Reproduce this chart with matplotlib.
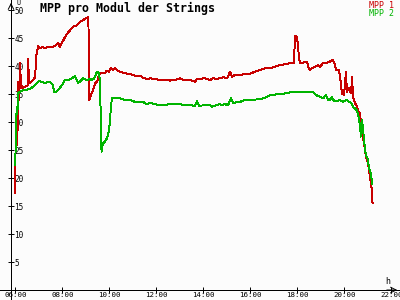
import matplotlib
matplotlib.use("Agg")
import matplotlib.pyplot as plt

# time of day in hours, voltage per module in V
t_mpp1 = [6.00, 6.01, 6.05, 6.09, 6.11, 6.17, 6.20, 6.24, 6.29, 6.41, 6.52, 6.55, 6.58, 6.67,
          6.75, 6.84, 6.90, 6.97, 7.05, 7.14, 7.26, 7.39, 7.56, 7.69, 7.82, 7.90, 8.03, 8.16,
          8.33, 8.46, 8.63, 8.75, 8.88, 9.01, 9.11, 9.15, 9.22, 9.31, 9.39, 9.48, 9.56, 9.65,
          9.82, 9.90, 9.99, 10.07, 10.16, 10.24, 10.37, 10.50, 10.67, 10.88, 11.09, 11.31, 11.43,
          11.60, 11.73, 11.94, 12.16, 12.37, 12.58, 12.80, 13.01, 13.14, 13.43, 13.65, 13.73,
          14.07, 14.29, 14.41, 14.58, 14.84, 15.01, 15.14, 15.22, 15.35, 15.56, 15.77, 15.99,
          16.20, 16.41, 16.63, 16.84, 17.05, 17.26, 17.48, 17.69, 17.86, 17.90, 17.99, 18.03,
          18.07, 18.11, 18.20, 18.33, 18.41, 18.46, 18.54, 18.63, 18.75, 18.88, 18.97, 19.09,
          19.26, 19.39, 19.52, 19.60, 19.65, 19.77, 19.82, 19.90, 19.99, 20.07, 20.11, 20.20,
          20.29, 20.33, 20.37, 20.46, 20.54, 20.58, 20.67, 20.71, 20.75, 20.80, 20.88, 20.92,
          21.01, 21.05, 21.09, 21.14, 21.18, 21.20]
mpp1 = [17.4, 25.6, 27.0, 25.9, 37.2, 33.9, 40.5, 37.0, 36.0, 36.3, 36.5, 41.2, 36.9, 37.2,
        37.5, 38.0, 42.0, 43.6, 43.2, 43.4, 43.2, 43.4, 43.4, 43.6, 44.1, 43.4, 44.5, 45.5,
        46.4, 47.0, 47.3, 47.9, 48.2, 48.5, 48.7, 33.9, 34.8, 35.7, 36.9, 37.2, 38.4, 38.7,
        38.8, 39.2, 39.0, 39.6, 39.3, 39.6, 39.1, 38.9, 38.7, 38.6, 38.3, 38.3, 37.9,
        37.7, 37.8, 37.7, 37.5, 37.5, 37.4, 37.5, 37.8, 37.5, 37.5, 37.2, 37.7,
        37.8, 37.5, 37.8, 37.7, 38.0, 37.8, 39.0, 38.1, 38.4, 38.4, 38.6, 38.6,
        39.0, 39.3, 39.6, 39.6, 39.9, 40.2, 40.3, 40.5, 40.6, 45.4, 45.2, 43.4,
        41.7, 40.5, 40.5, 40.7, 40.8, 39.9, 39.2, 39.7, 39.8, 40.2, 39.9, 40.5,
        40.6, 40.8, 41.1, 40.2, 39.3, 39.3, 38.1, 35.1, 34.8, 39.0, 35.4, 36.0,
        35.1, 38.1, 34.5, 33.3, 32.9, 32.1, 31.5, 29.8, 28.6, 27.1, 25.0, 23.8,
        22.6, 21.4, 20.2, 19.0, 17.3, 15.6]

t_mpp2 = [6.00, 6.02, 6.06, 6.09, 6.11, 6.20, 6.33, 6.50, 6.67, 6.75, 6.84, 6.92, 7.01, 7.09,
          7.26, 7.48, 7.60, 7.65, 7.73, 7.82, 7.99, 8.11, 8.33, 8.54, 8.67, 8.75, 8.88, 9.05,
          9.18, 9.26, 9.35, 9.48, 9.56, 9.60, 9.67, 9.73, 9.82, 9.90, 9.99, 10.03, 10.07, 10.11,
          10.20, 10.33, 10.46, 10.63, 10.75, 10.84, 11.09, 11.31, 11.43, 11.60, 11.73, 11.94,
          12.16, 12.37, 12.58, 12.80, 13.01, 13.22, 13.43, 13.65, 13.73, 13.82, 14.07, 14.29,
          14.37, 14.54, 14.71, 14.80, 14.92, 15.05, 15.18, 15.26, 15.56, 15.77, 15.99, 16.20,
          16.41, 16.63, 16.84, 17.05, 17.26, 17.48, 17.69, 17.90, 18.11, 18.33, 18.54, 18.67,
          18.80, 18.97, 19.09, 19.22, 19.31, 19.39, 19.48, 19.56, 19.69, 19.82, 19.95, 20.03,
          20.11, 20.20, 20.29, 20.37, 20.46, 20.54, 20.58, 20.63, 20.67, 20.71, 20.75, 20.80,
          20.84, 20.88, 20.92, 21.01, 21.05, 21.09, 21.14, 21.18]
mpp2 = [22.3, 27.7, 32.7, 31.5, 35.1, 35.4, 35.7, 35.8, 36.0, 36.3, 36.6, 36.9, 37.4, 37.2,
        37.0, 37.2, 36.6, 35.4, 35.3, 35.7, 36.6, 37.5, 37.6, 38.2, 37.0, 37.2, 37.8, 37.5,
        37.7, 37.5, 37.7, 39.0, 38.7, 37.5, 24.7, 26.2, 26.5, 27.1, 28.6, 30.4, 32.7, 34.2,
        34.3, 34.3, 34.2, 34.0, 33.9, 34.0, 33.6, 33.5, 33.6, 33.2, 33.4, 33.2,
        33.0, 33.0, 33.3, 33.2, 33.2, 33.0, 33.0, 32.9, 33.75, 32.9, 33.0, 33.0,
        32.7, 33.0, 33.2, 33.0, 33.2, 33.0, 34.3, 33.4, 33.6, 33.9, 33.9, 34.0,
        34.1, 34.3, 34.8, 34.9, 35.0, 35.1, 35.3, 35.3, 35.4, 35.3, 35.4, 35.3,
        34.8, 34.5, 34.2, 34.8, 33.9, 34.0, 34.4, 33.8, 33.8, 33.9, 33.6, 33.8,
        33.9, 33.6, 33.4, 32.7, 32.4, 32.1, 31.5, 30.4, 29.2, 27.4, 30.4, 28.6,
        26.8, 25.0, 24.1, 23.2, 21.7, 21.4, 20.5, 19.0]

x_ticks = [6, 8, 10, 12, 14, 16, 18, 20, 22]
x_labels = ["06:00", "08:00", "10:00", "12:00", "14:00", "16:00", "18:00", "20:00", "22:00"]
y_ticks = [5, 10, 15, 20, 25, 30, 35, 40, 45, 50]

red = "#c80000"
green = "#00b400"
bg = "#fcfcfc"
mono = "DejaVu Sans Mono"

fig = plt.figure(figsize=(4, 3), dpi=100, facecolor=bg)
ax = fig.add_axes([0, 0, 1, 1], facecolor=bg)

ax.plot(t_mpp1, mpp1, color=red, lw=0.7, antialiased=False)
ax.plot(t_mpp2, mpp2, color=green, lw=0.7, antialiased=False)

ax.set_xlim(5.349, 22.37)
ax.set_ylim(-1.786, 51.79)

for s in ["top", "right"]:
    ax.spines[s].set_visible(False)
ax.spines["left"].set_position(("data", 5.817))
ax.spines["bottom"].set_position(("data", 0))
for s in ["left", "bottom"]:
    ax.spines[s].set_linewidth(0.7)
    ax.spines[s].set_antialiased(False)

ax.set_xticks(x_ticks)
ax.set_xticklabels(x_labels, family=mono, fontsize=5.4)
ax.set_yticks(y_ticks)
ax.set_yticklabels([str(v) for v in y_ticks], family=mono, fontsize=5.6)
ax.tick_params(axis="both", direction="inout", length=4.5, width=0.7)
ax.tick_params(axis="x", pad=-0.6)
ax.tick_params(axis="y", pad=-4.6)
for lbl in ax.get_yticklabels():
    lbl.set_horizontalalignment("left")

# axis arrows and units
ax.annotate("", xy=(1.0, 0), xycoords=("axes fraction", "data"),
            xytext=(0.96, 0), textcoords=("axes fraction", "data"),
            arrowprops=dict(arrowstyle="->", lw=0.7, color="black"))
ax.annotate("", xy=(5.817, 1.0), xycoords=("data", "axes fraction"),
            xytext=(5.817, 0.97), textcoords=("data", "axes fraction"),
            arrowprops=dict(arrowstyle="->", lw=0.7, color="black"))
ax.text(0.962, 0.06, "h", transform=ax.transAxes, family=mono, fontsize=6, ha="left", va="center")
ax.text(0.042, 1.0, "U", transform=ax.transAxes, family=mono, fontsize=4.8, ha="left", va="top")

fig.text(0.1, 0.972, "MPP pro Modul der Strings", family=mono, fontweight="bold",
         fontsize=8.4, ha="left", va="center")
fig.text(0.985, 0.997, "MPP 1", color=red, family=mono, fontsize=6, ha="right", va="top")
fig.text(0.985, 0.969, "MPP 2", color=green, family=mono, fontsize=6, ha="right", va="top")

fig.savefig("out.png", dpi=100, facecolor=bg)
